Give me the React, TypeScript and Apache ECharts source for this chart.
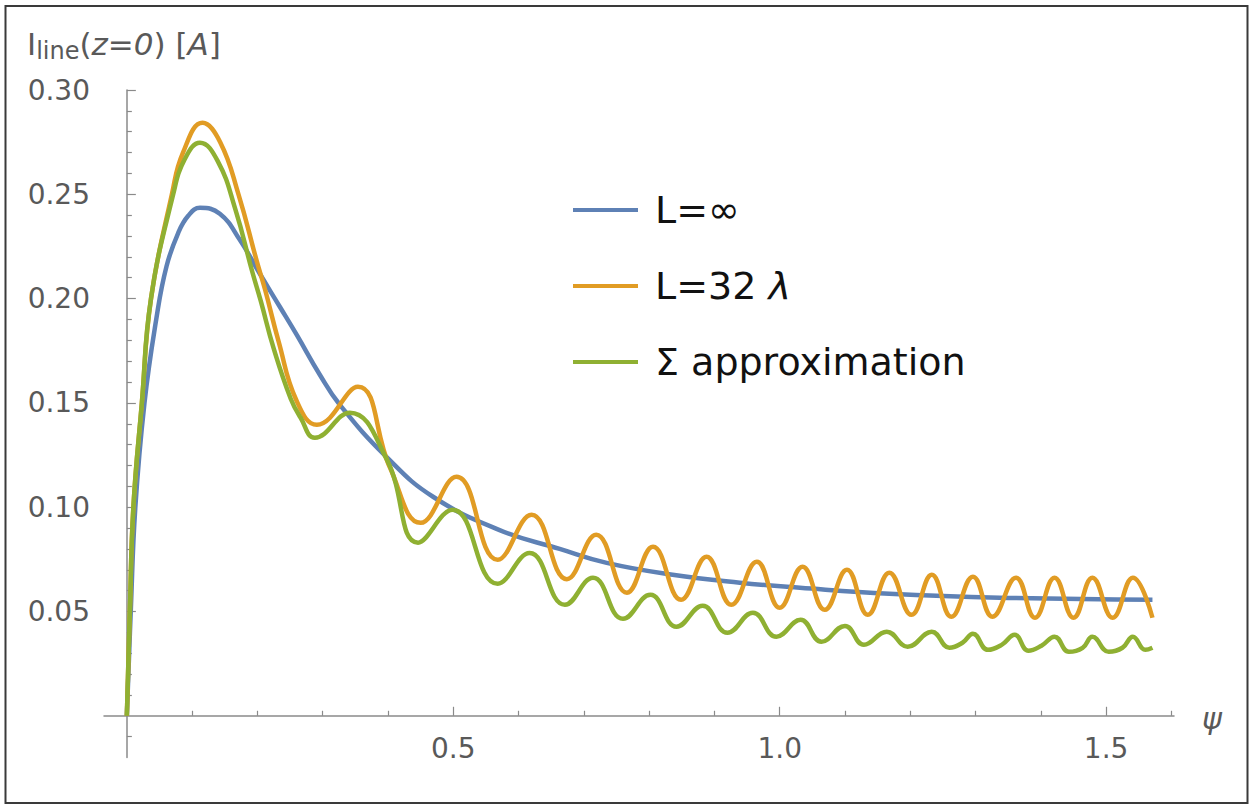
import React, { useEffect, useRef } from "react";
import * as echarts from "echarts";

// ---- data (psi, I_line) ----
const seriesNames = ["L=∞", "L=32 λ", "Σ approximation"];

const infinitePoints: [number, number][] = [
  [0, 0], [0.006, 0.05], [0.013, 0.1], [0.027, 0.15], [0.045, 0.19], [0.0607, 0.2154],
  [0.0786, 0.2314], [0.094, 0.2397], [0.112, 0.2435], [0.1424, 0.2407], [0.173, 0.2282],
  [0.2037, 0.2119], [0.2343, 0.1961], [0.2603, 0.1826], [0.2956, 0.1635], [0.3262, 0.1491],
  [0.398, 0.124], [0.469, 0.105], [0.571, 0.089], [0.663, 0.08],
  [0.735, 0.0733], [0.836, 0.0676], [0.939, 0.0638], [1.031, 0.0614], [1.168, 0.0585],
  [1.337, 0.0566], [1.571, 0.0556],
];

const l32Points: [number, number][] = [
  [0, 0], [0.0046, 0.05], [0.01, 0.1], [0.023, 0.15], [0.037, 0.2], [0.069, 0.25],
  [0.086, 0.27], [0.116, 0.2843], [0.143, 0.275], [0.171, 0.25], [0.199, 0.218],
  [0.212, 0.204], [0.232, 0.18], [0.26, 0.151], [0.291, 0.1395], [0.354, 0.1577],
  [0.403, 0.119], [0.45, 0.0925],
  [0.505, 0.1146], [0.568, 0.0748], [0.62, 0.0964], [0.674, 0.0655], [0.719, 0.0868],
  [0.766, 0.059], [0.806, 0.081], [0.849, 0.0556], [0.888, 0.0762], [0.926, 0.0532],
  [0.965, 0.0738], [1.0, 0.0518], [1.035, 0.0714], [1.069, 0.0508], [1.103, 0.07],
  [1.135, 0.0484], [1.168, 0.0686], [1.202, 0.0484], [1.233, 0.0676], [1.263, 0.0475],
  [1.296, 0.0667], [1.326, 0.0475], [1.362, 0.0662], [1.391, 0.047], [1.421, 0.0662],
  [1.45, 0.047], [1.479, 0.0662], [1.51, 0.047], [1.541, 0.0662], [1.571, 0.047],
];

const sumPoints: [number, number][] = [
  [0, 0], [0.0046, 0.05], [0.01, 0.1], [0.023, 0.15], [0.037, 0.2], [0.071, 0.25],
  [0.089, 0.267], [0.112, 0.2747], [0.139, 0.266], [0.166, 0.243], [0.192, 0.213],
  [0.205, 0.199], [0.225, 0.176], [0.251, 0.152], [0.266, 0.143], [0.288, 0.1333],
  [0.3415, 0.1453], [0.398, 0.123], [0.446, 0.083],
  [0.499, 0.0988], [0.568, 0.0633], [0.617, 0.078], [0.671, 0.0532], [0.714, 0.0662],
  [0.76, 0.0465], [0.802, 0.058], [0.842, 0.0427], [0.882, 0.0527], [0.92, 0.0398],
  [0.959, 0.0494], [0.995, 0.0379], [1.032, 0.046], [1.064, 0.0355], [1.1, 0.0431],
  [1.129, 0.034], [1.164, 0.0403], [1.196, 0.0331], [1.233, 0.0403], [1.26, 0.0326],
  [1.28, 0.035], [1.296, 0.0393], [1.319, 0.0316], [1.34, 0.034], [1.36, 0.0388],
  [1.381, 0.0312], [1.401, 0.0336], [1.421, 0.0379], [1.443, 0.0307], [1.464, 0.0326],
  [1.479, 0.0379], [1.504, 0.0307], [1.525, 0.0326], [1.541, 0.0379], [1.56, 0.0316],
  [1.571, 0.0326],
];

// ---- ticks ----
const xLabelValues = [0.5, 1.0, 1.5];
const xMajorTicks = [0.5, 1.0, 1.5];
const xMinorTicks = [0.1, 0.2, 0.3, 0.4, 0.6, 0.7, 0.8, 0.9, 1.1, 1.2, 1.3, 1.4, 1.6];
const yLabelValues = [0.05, 0.1, 0.15, 0.2, 0.25, 0.3];
const yMajorTicks = [0.05, 0.1, 0.15, 0.2, 0.25, 0.3];
const yMinorTicks = [
  -0.01, 0.01, 0.02, 0.03, 0.04, 0.06, 0.07, 0.08, 0.09, 0.11, 0.12, 0.13, 0.14,
  0.16, 0.17, 0.18, 0.19, 0.21, 0.22, 0.23, 0.24, 0.26, 0.27, 0.28, 0.29,
];

const colors = ["#5e81b5", "#e19c24", "#8fb032"];
const FONT = "DejaVu Sans";
const AXIS_COLOR = "#8a8a8a";
const LABEL_COLOR = "#595959";

export default function App() {
  const ref = useRef<HTMLDivElement>(null);

  useEffect(() => {
    if (!ref.current) return;
    const chart = echarts.init(ref.current, undefined, { renderer: "svg" });

    const xBase = {
      type: "value" as const,
      min: -0.035,
      max: 1.604,
      position: "bottom" as const,
      splitLine: { show: false },
    };
    const yBase = {
      type: "value" as const,
      min: -0.02,
      max: 0.3,
      position: "left" as const,
      splitLine: { show: false },
    };

    const lineSeries = [infinitePoints, l32Points, sumPoints].map((pts, i) => ({
      name: seriesNames[i],
      type: "line" as const,
      data: pts,
      smooth: 0.45,
      symbol: "none",
      xAxisIndex: 0,
      yAxisIndex: 0,
      lineStyle: { color: colors[i], width: 4.5 },
      itemStyle: { color: colors[i] },
      z: 3 + i,
    }));

    chart.setOption({
      animation: false,
      backgroundColor: "#ffffff",
      grid: { left: 104, top: 90, width: 1070, height: 667.5, containLabel: false },
      xAxis: [
        {
          ...xBase,
          axisLine: { show: true, onZero: true, lineStyle: { color: AXIS_COLOR, width: 1.5 } },
          axisTick: { show: true, inside: true, length: 5, customValues: xMinorTicks, lineStyle: { color: AXIS_COLOR, width: 1.2 } },
          axisLabel: {
            show: true,
            customValues: xLabelValues,
            formatter: (v: number) => v.toFixed(1),
            fontSize: 28,
            fontFamily: FONT,
            color: LABEL_COLOR,
            margin: -23,
          },
        },
        {
          ...xBase,
          axisLine: { show: true, onZero: true, lineStyle: { color: AXIS_COLOR, opacity: 0 } },
          axisTick: { show: true, inside: true, length: 9, customValues: xMajorTicks, lineStyle: { color: AXIS_COLOR, width: 1.2 } },
          axisLabel: { show: false },
        },
      ],
      yAxis: [
        {
          ...yBase,
          axisLine: { show: true, onZero: true, lineStyle: { color: AXIS_COLOR, width: 1.5 } },
          axisTick: { show: true, inside: true, length: 5, customValues: yMinorTicks, lineStyle: { color: AXIS_COLOR, width: 1.2 } },
          axisLabel: {
            show: true,
            customValues: yLabelValues,
            formatter: (v: number) => v.toFixed(2),
            fontSize: 28,
            fontFamily: FONT,
            color: LABEL_COLOR,
            margin: 14,
          },
        },
        {
          ...yBase,
          axisLine: { show: true, onZero: true, lineStyle: { color: AXIS_COLOR, opacity: 0 } },
          axisTick: { show: true, inside: true, length: 9, customValues: yMajorTicks, lineStyle: { color: AXIS_COLOR, width: 1.2 } },
          axisLabel: { show: false },
        },
      ],
      legend: {
        orient: "vertical",
        left: 573,
        top: 190,
        padding: 0,
        itemGap: 36,
        itemWidth: 65,
        itemHeight: 4,
        icon: "rect",
        selectedMode: false,
        data: seriesNames,
        formatter: (name: string) => name.replace("λ", "{i|λ}"),
        textStyle: {
          fontSize: 38,
          fontFamily: FONT,
          color: "#111111",
          lineHeight: 40,
          padding: [0, 0, 0, 12],
          rich: {
            i: { fontSize: 38, fontFamily: FONT, fontStyle: "italic", color: "#111111", lineHeight: 40 },
          },
        },
      },
      graphic: [
        {
          type: "rect",
          shape: { x: 5.5, y: 6, width: 1242, height: 797 },
          style: { fill: "none", stroke: "#3a3a3a", lineWidth: 2 },
          silent: true,
        },
        {
          type: "text",
          x: 27,
          y: 28,
          style: {
            text: "{n|I}{s|line}{n|(}{i|z=0}{n|) [}{i|A}{n|]}",
            rich: {
              n: { fontSize: 31, fontFamily: FONT, fill: LABEL_COLOR, lineHeight: 34, verticalAlign: "top" },
              i: { fontSize: 31, fontFamily: FONT, fontStyle: "italic", fill: LABEL_COLOR, lineHeight: 34, verticalAlign: "top" },
              s: { fontSize: 24, fontFamily: FONT, fill: LABEL_COLOR, lineHeight: 34, padding: [11, 0, 0, 0], verticalAlign: "top" },
            },
          },
        },
        {
          type: "text",
          x: 1202,
          y: 718,
          style: {
            text: "ψ",
            fontSize: 30,
            fontFamily: FONT,
            fontStyle: "italic",
            fill: LABEL_COLOR,
            verticalAlign: "middle",
          },
        },
      ],
      series: lineSeries,
    });

    return () => chart.dispose();
  }, []);

  return (
    <div
      ref={ref}
      style={{ position: "absolute", left: 0, top: 0, width: 1253, height: 808, background: "#fff" }}
    />
  );
}
